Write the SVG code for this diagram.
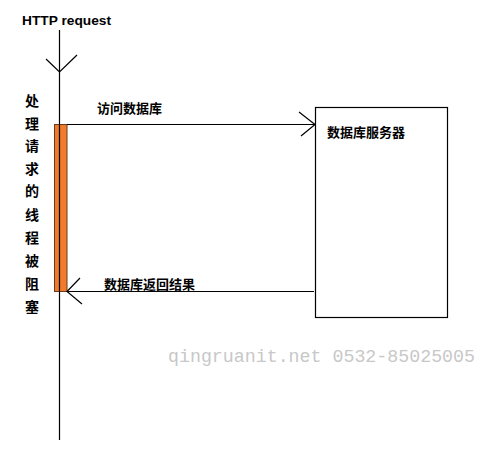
<svg xmlns="http://www.w3.org/2000/svg" width="488" height="452" viewBox="0 0 488 452">
<style>
.ln{stroke:#000;stroke-width:1.2;fill:none}
.t{font-family:"Liberation Sans","Noto Sans CJK SC",sans-serif;font-weight:bold;font-size:13px;fill:#000}
.v{font-family:"Liberation Sans","Noto Sans CJK SC",sans-serif;font-weight:bold;font-size:14px;fill:#000;text-anchor:middle}
.wm{font-family:"Liberation Mono","Noto Sans CJK SC",monospace;font-size:18px;fill:#c8c8c8}
</style>
<rect width="488" height="452" fill="#fff"/>
<g id="request">
<text class="t" x="22" y="25" font-size="13.5" textLength="89" lengthAdjust="spacingAndGlyphs">HTTP request</text>
</g>
<g id="thread">
<line class="ln" x1="59.5" y1="30" x2="59.5" y2="440"/>
<rect x="54.5" y="124.5" width="12.5" height="167" fill="#f07b2b" stroke="#6b3a1a" stroke-width="1"/>
<line class="ln" x1="59.5" y1="124.5" x2="59.5" y2="291.5"/>
<text class="v" x="32" y="106">处</text>
<text class="v" x="32" y="128.5">理</text>
<text class="v" x="32" y="151">请</text>
<text class="v" x="32" y="173.5">求</text>
<text class="v" x="32" y="196">的</text>
<text class="v" x="32" y="220">线</text>
<text class="v" x="32" y="243">程</text>
<text class="v" x="32" y="266">被</text>
<text class="v" x="32" y="289">阻</text>
<text class="v" x="32" y="312">塞</text>
</g>
<g id="db-server">
<rect x="315.5" y="107.5" width="132" height="210" fill="#fff" stroke="#000" stroke-width="1.2"/>
<text class="t" x="327" y="137">数据库服务器</text>
</g>
<g id="connectors">
<polyline class="ln" points="46,59 59.5,72 77,55"/>
<line class="ln" x1="67" y1="124.5" x2="315" y2="124.5"/>
<polyline class="ln" points="299,112 315,124.5 301,136"/>
<line class="ln" x1="67" y1="291.5" x2="314" y2="291.5"/>
<polyline class="ln" points="80,278 67,291.5 82,304"/>
<text class="t" x="97" y="113">访问数据库</text>
<text class="t" x="104" y="289">数据库返回结果</text>
</g>
<text class="wm" x="168" y="362" textLength="307" lengthAdjust="spacingAndGlyphs">qingruanit.net 0532-85025005</text>
</svg>
